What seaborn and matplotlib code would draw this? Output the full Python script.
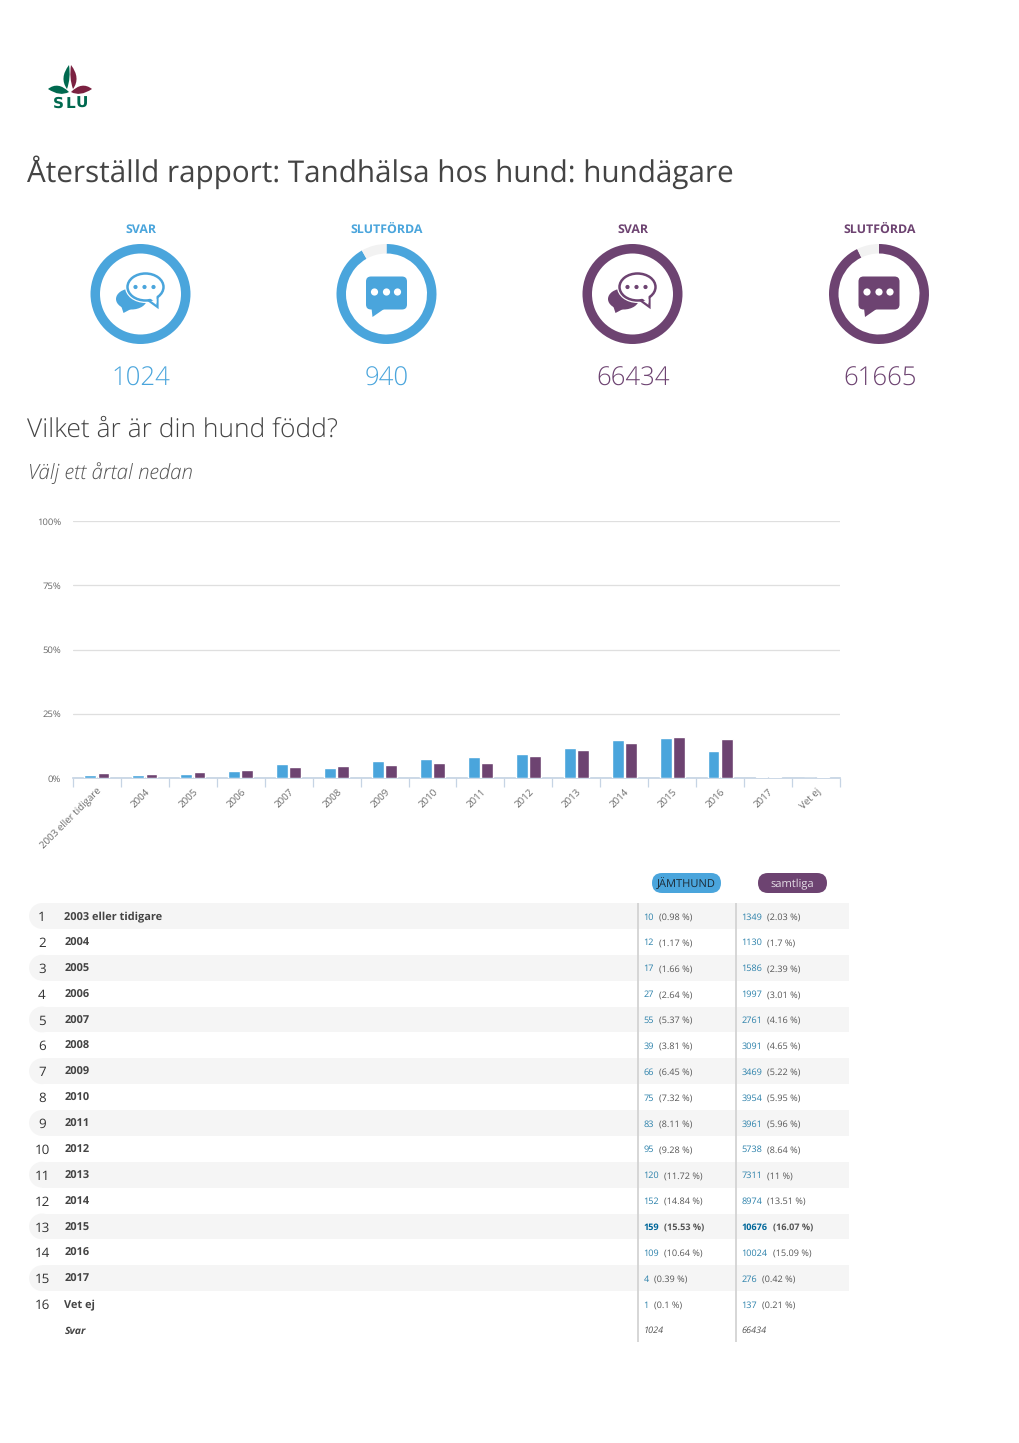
import matplotlib
matplotlib.use("Agg")
import matplotlib.pyplot as plt
import seaborn as sns
import pandas as pd
from matplotlib.patches import Circle, Ellipse, FancyBboxPatch, PathPatch, Polygon, Rectangle
from matplotlib.path import Path

# data
years = ['2003 eller tidigare', '2004', '2005', '2006', '2007', '2008', '2009', '2010',
         '2011', '2012', '2013', '2014', '2015', '2016', '2017', 'Vet ej']
jamthund_n = [10, 12, 17, 27, 55, 39, 66, 75, 83, 95, 120, 152, 159, 109, 4, 1]
jamthund_pct = [0.98, 1.17, 1.66, 2.64, 5.37, 3.81, 6.45, 7.32, 8.11, 9.28, 11.72, 14.84, 15.53, 10.64, 0.39, 0.1]
samtliga_n = [1349, 1130, 1586, 1997, 2761, 3091, 3469, 3954, 3961, 5738, 7311, 8974, 10676, 10024, 276, 137]
samtliga_pct = [2.03, 1.7, 2.39, 3.01, 4.16, 4.65, 5.22, 5.95, 5.96, 8.64, 11, 13.51, 16.07, 15.09, 0.42, 0.21]
svar_total = [1024, 66434]
slutforda = [940, 61665]
y_ticks = [0, 25, 50, 75, 100]

BLUE = '#4aa5dc'
PURPLE = '#6d4371'
W, H = 1020, 1443

sns.set_theme(style='white')
plt.rcParams['font.family'] = ['Open Sans', 'DejaVu Sans']
plt.rcParams['text.hinting'] = 'no_hinting'

fig = plt.figure(figsize=(W / 100, H / 100), dpi=100, facecolor='white')
page = fig.add_axes([0, 0, 1, 1], zorder=5)
page.set_xlim(0, W)
page.set_ylim(H, 0)
page.axis('off')


def px_axes(x0, y0, x1, y1, **kw):
    # axes from page pixels (y going down)
    return fig.add_axes([x0 / W, 1 - y1 / H, (x1 - x0) / W, (y1 - y0) / H], **kw)


# logo
def leaf(pts, color):
    codes = [Path.MOVETO, Path.CURVE3, Path.CURVE3, Path.CURVE3, Path.CURVE3]
    page.add_patch(PathPatch(Path(pts, codes), fc=color, ec='none'))


GREEN = '#00694f'
WINE = '#7b2141'
leaf([(48, 89), (58, 81), (69, 92), (60, 97), (48, 89)], GREEN)
leaf([(92, 89), (82, 81), (71, 92), (80, 97), (92, 89)], WINE)
leaf([(69, 65), (59, 78), (67, 89), (71, 78), (69, 65)], GREEN)
leaf([(71, 65), (81, 78), (73, 89), (69, 78), (71, 65)], WINE)
for lx, letter in zip((58.5, 70.5, 82), 'SLU'):
    page.text(lx, 108, letter, ha='center', va='baseline', fontsize=11, fontweight='bold',
              family='DejaVu Sans', color=GREEN)

# headings
page.text(27, 172, 'Återställd rapport: Tandhälsa hos hund: hundägare', fontsize=21.3,
          color='#444444', va='center')
page.text(27, 430, 'Vilket år är din hund född?', fontsize=19, color='#444444',
          va='center', fontweight='light')
page.text(28, 473, 'Välj ett årtal nedan', fontsize=14.8, color='#555555', va='center',
          style='italic', fontweight='light')


def icon_outline(cx, cy, c):
    # two overlapping speech bubbles
    page.add_patch(Ellipse((cx - 9, cy + 5), 31, 21, fc=c, ec='none'))
    page.add_patch(Polygon([(cx - 20, cy + 10), (cx - 17, cy + 19), (cx - 2, cy + 11)], fc=c, ec='none'))
    page.add_patch(Ellipse((cx + 5, cy - 7), 41, 32, fc='white', ec='none'))
    page.add_patch(Polygon([(cx + 6, cy + 5), (cx + 17, cy + 13), (cx + 17, cy + 1)], fc='white', ec=c, lw=1.6))
    page.add_patch(Ellipse((cx + 5, cy - 7), 36, 27, fc='white', ec=c, lw=1.8))
    page.add_patch(Polygon([(cx + 9, cy + 4), (cx + 16, cy + 9), (cx + 16, cy + 1)], fc='white', ec='none'))
    for dx in (-5, 4, 13):
        page.add_patch(Circle((cx + dx, cy - 7), 2.1, fc=c, ec='none'))


def icon_filled(cx, cy, c):
    page.add_patch(FancyBboxPatch((cx - 17.5, cy - 14.5), 35, 27, boxstyle='round,pad=3,rounding_size=5', fc=c, ec='none'))
    page.add_patch(Polygon([(cx - 15, cy + 14), (cx - 14, cy + 23), (cx - 1, cy + 14)], fc=c, ec='none'))
    for dx in (-12, 0, 11):
        page.add_patch(Circle((cx + dx, cy - 2), 3.6, fc='white', ec='none'))


# donuts
centers = [140.5, 386.5, 632.5, 879]
donut_vals = [(svar_total[0], 0), (slutforda[0], svar_total[0] - slutforda[0]),
              (svar_total[1], 0), (slutforda[1], svar_total[1] - slutforda[1])]
labels = ['SVAR', 'SLUTFÖRDA', 'SVAR', 'SLUTFÖRDA']
colors = [BLUE, BLUE, PURPLE, PURPLE]
big = [svar_total[0], slutforda[0], svar_total[1], slutforda[1]]
cy = 294
for i, cx in enumerate(centers):
    ax_d = px_axes(cx - 50, cy - 50, cx + 50, cy + 50)
    ax_d.pie(donut_vals[i], colors=[colors[i], '#f2f2f2'], startangle=90, counterclock=False,
             radius=1, wedgeprops={'width': 0.19, 'linewidth': 0})
    ax_d.set_xlim(-1, 1)
    ax_d.set_ylim(-1, 1)
    page.text(round(cx + 0.6), 229.5, labels[i], ha='center', va='center', fontsize=8.9, fontweight='bold', color=colors[i])
    page.text(round(cx + 0.6), 386, str(big[i]), ha='center', va='baseline', fontsize=18.5, fontweight='light', color=colors[i])
    if i % 2 == 0:
        icon_outline(cx, cy, colors[i])
    else:
        icon_filled(cx, cy, colors[i])

# bar chart
df = pd.DataFrame({
    'year': years * 2,
    'pct': jamthund_pct + samtliga_pct,
    'group': ['JÄMTHUND'] * len(years) + ['samtliga'] * len(years),
})
ax = px_axes(73, 521, 840, 778)
ax.patch.set_alpha(0)
sns.barplot(data=df, x='year', y='pct', hue='group', palette=[BLUE, PURPLE], width=0.55, gap=0.1,
            saturation=1, legend=False, ax=ax, zorder=3)
ax.set_xlim(-0.5, len(years) - 0.5)
ax.set_ylim(0, 100)
ax.set_xlabel('')
ax.set_ylabel('')
ax.set_yticks(y_ticks)
ax.set_yticklabels([f'{t}%' for t in y_ticks], fontsize=6.8, color='#666666')
ax.tick_params(axis='y', length=0, pad=8.5)
ax.grid(axis='y', color='#dfdfdf', lw=0.9)
ax.set_axisbelow(True)
ax.set_xticks(range(len(years)))
ax.set_xticklabels(years, rotation=45, ha='right', rotation_mode='anchor', fontsize=7, color='#666666')
ax.set_xticks([k - 0.5 for k in range(len(years) + 1)], minor=True)
ax.tick_params(axis='x', which='major', length=0, pad=6)
ax.tick_params(axis='x', which='minor', length=6.5, width=0.9, color='#c6d4e4', bottom=True)
for s in ['top', 'left', 'right']:
    ax.spines[s].set_visible(False)
ax.spines['bottom'].set_color('#c6d4e4')

# legend pills
for x0, x1, c, name, tc in [(652, 721, BLUE, 'JÄMTHUND', '#1c2b36'), (758, 827, PURPLE, 'samtliga', '#e6e0e8')]:
    page.add_patch(FancyBboxPatch((x0 + 10, 873 + 10), x1 - x0 - 20, 0, boxstyle='round,pad=10,rounding_size=10',
                                  fc=c, ec='none'))
    page.text((x0 + x1) / 2, 884, name, ha='center', va='center', fontsize=8, color=tc)

# table
row_y0 = 916
row_h = 25.87
LINK = '#2a80aa'
fig.canvas.draw()
renderer = fig.canvas.get_renderer()


def cell(x, y, n, p, bold):
    w = 'bold' if bold else 'normal'
    t = page.text(x, y, str(n), fontsize=6.6, color='#00679a' if bold else LINK, va='baseline', fontweight=w)
    bb = t.get_window_extent(renderer)
    page.text(bb.x1 + 5, y, f'({p:g} %)', fontsize=6.6, color='#555555', va='baseline', fontweight=w)


top_row = jamthund_n.index(max(jamthund_n))
for k, year in enumerate(years):
    y = row_y0 + k * row_h
    if k % 2 == 0:
        page.add_patch(Circle((42, y), row_h / 2, fc='#f5f5f5', ec='none', zorder=0))
        page.add_patch(Rectangle((42, y - row_h / 2), 849 - 42, row_h, fc='#f5f5f5', ec='none', zorder=0))
    page.text(42, y + 5, str(k + 1), ha='center', va='baseline', fontsize=9.6, color='#333333')
    page.text(64.5, y + 4, year, va='baseline', fontsize=7.9, fontweight='bold', color='#444444')
    cell(643.5, y + 3.5, jamthund_n[k], jamthund_pct[k], k == top_row)
    cell(741.5, y + 3.5, samtliga_n[k], samtliga_pct[k], k == top_row)

y = 1330
page.text(64.5, y + 3.5, 'Svar', va='baseline', fontsize=7.5, fontweight='bold', style='italic', color='#444444')
page.text(643.5, y + 3, str(svar_total[0]), va='baseline', fontsize=6.6, style='italic', color='#555555')
page.text(741.5, y + 3, str(svar_total[1]), va='baseline', fontsize=6.6, style='italic', color='#555555')
for x in (638, 736):
    page.plot([x, x], [903, 1342], color='#d0d0d0', lw=1.2, solid_capstyle='butt')

fig.savefig('out.png', dpi=100)
